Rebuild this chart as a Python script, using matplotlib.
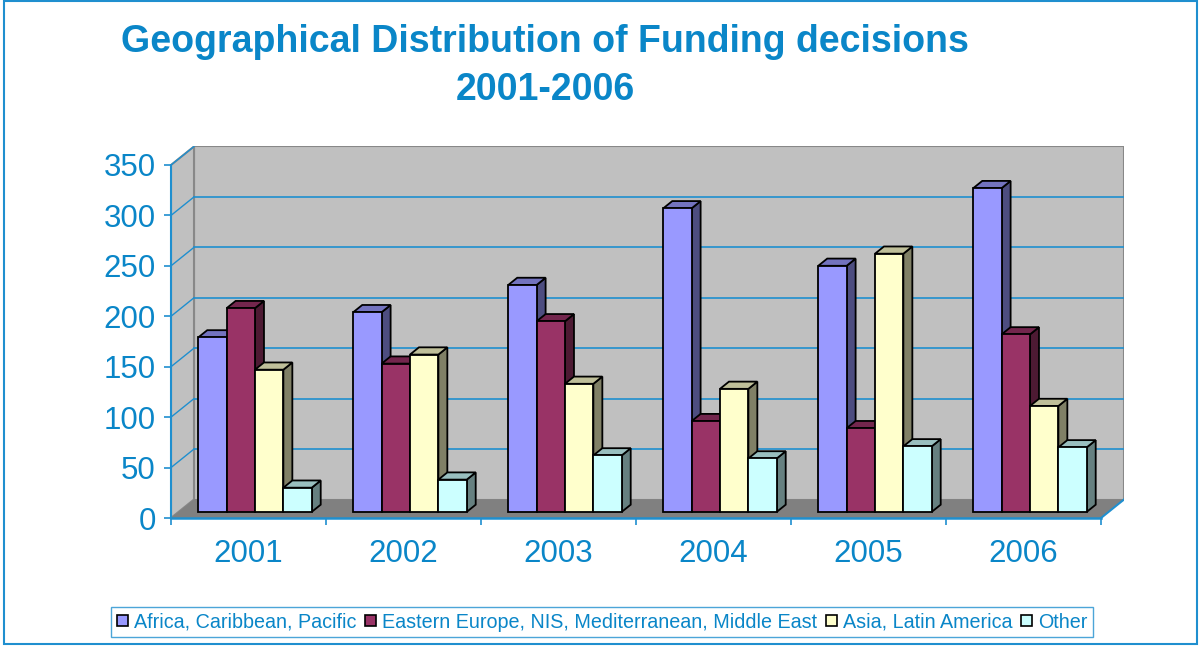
import numpy as np
import matplotlib
matplotlib.use('Agg')
import matplotlib.pyplot as plt
from matplotlib.patches import Polygon, Patch, Rectangle

plt.rcParams['font.family'] = ['Liberation Sans', 'DejaVu Sans']

years = ['2001', '2002', '2003', '2004', '2005', '2006']
series = ['Africa, Caribbean, Pacific',
          'Eastern Europe, NIS, Mediterranean, Middle East',
          'Asia, Latin America',
          'Other']
acp = [173, 198, 225, 301, 244, 321]
eu_med = [202, 147, 189, 90, 83, 176]
asia_la = [141, 156, 127, 122, 256, 105]
other = [24, 32, 56, 53, 65, 64]
yticks = [0, 50, 100, 150, 200, 250, 300, 350]

values = [acp, eu_med, asia_la, other]
front_cols = ['#9999ff', '#993366', '#ffffcc', '#ccffff']
top_cols = ['#7373bf', '#73264d', '#bfbf99', '#99bfbf']
side_cols = ['#4d4d80', '#4d1a33', '#808066', '#668080']

blue = '#0a86c8'
grid_blue = '#1f8fcf'

W, H = 1199, 646
fig = plt.figure(figsize=(W / 100, H / 100), dpi=100)

# pixel geometry of the plot box
px_l, px_r, px_b, px_t = 171, 1124, 518, 146
ppx = 155.0      # pixels per category
ppy = 1.0086     # pixels per value unit
ax = fig.add_axes([px_l / W, 1 - px_b / H, (px_r - px_l) / W, (px_b - px_t) / H])
ax.set_xlim(0, (px_r - px_l) / ppx)
ax.set_ylim(0, (px_b - px_t) / ppy)

# depth vector (front plane -> back wall)
dx, dy = 23 / ppx, 18.5 / ppy
top = 350

# walls and floor
ax.add_patch(Polygon([(dx, dy), (6 + dx, dy), (6 + dx, top + dy), (dx, top + dy)],
                     closed=True, fc='#c0c0c0', ec='#888888', lw=1.5, zorder=0))
ax.add_patch(Polygon([(0, 0), (dx, dy), (dx, top + dy), (0, top)],
                     closed=True, fc='#c0c0c0', ec='#888888', lw=1.5, zorder=0))
ax.add_patch(Polygon([(0, 0), (6, 0), (6 + dx, dy), (dx, dy)],
                     closed=True, fc='#808080', ec='none', zorder=0.5))

# gridlines on back wall and left wall
for v in yticks[1:-1]:
    ax.plot([dx, 6 + dx], [v + dy, v + dy], color=grid_blue, lw=1.2, zorder=0.6)
for v in yticks[1:]:
    ax.plot([0, dx], [v, v + dy], color=grid_blue, lw=1.0, zorder=0.6)
ax.plot([6, 6 + dx], [0, dy], color=grid_blue, lw=1.5, zorder=0.6)
ax.plot([0, 6], [0, 0], color=grid_blue, lw=1.8, zorder=0.7, clip_on=False)

# bars
z0, z1 = 0.33, 0.72
bw = 0.183
start = 0.127
bdx, bdy = (z1 - z0) * dx, (z1 - z0) * dy
for i in range(len(years)):
    for j, vals in enumerate(values):
        x0 = i + start + j * bw + z0 * dx
        y0 = z0 * dy
        h = vals[i]
        side = [(x0 + bw, y0), (x0 + bw + bdx, y0 + bdy),
                (x0 + bw + bdx, y0 + h + bdy), (x0 + bw, y0 + h)]
        tp = [(x0, y0 + h), (x0 + bdx, y0 + h + bdy),
              (x0 + bw + bdx, y0 + h + bdy), (x0 + bw, y0 + h)]
        zb = 2 + i * 4 + j
        ax.add_patch(Polygon(side, closed=True, fc=side_cols[j], ec='black', lw=1.3, zorder=zb))
        ax.add_patch(Polygon(tp, closed=True, fc=top_cols[j], ec='black', lw=1.3, zorder=zb))
        ax.bar(x0, h, width=bw, bottom=y0, align='edge', color=front_cols[j],
               edgecolor='black', linewidth=1.3, zorder=zb + 0.5)

# axes styling
for s in ['top', 'right', 'bottom']:
    ax.spines[s].set_visible(False)
ax.spines['left'].set_bounds(0, 350)
ax.spines['left'].set_color(grid_blue)
ax.spines['left'].set_linewidth(1.5)
ax.set_yticks(yticks)
ax.set_yticklabels([str(v) for v in yticks])
ax.tick_params(axis='y', direction='out', length=5, width=1.2, color=grid_blue,
               labelcolor=blue, labelsize=22.5, pad=6)
ax.set_xticks(np.arange(len(years)) + 0.5)
ax.set_xticklabels(years)
ax.set_xticks(np.arange(len(years) + 1), minor=True)
ax.tick_params(axis='x', which='major', length=0, labelcolor=blue, labelsize=22.5, pad=15)
ax.tick_params(axis='x', which='minor', direction='out', length=5, width=1.2, color=grid_blue)

# title
fig.text(545 / W, 1 - 42 / H, 'Geographical Distribution of Funding decisions',
         ha='center', va='center', fontsize=27, fontweight='bold', color=blue)
fig.text(545 / W, 1 - 90 / H, '2001-2006',
         ha='center', va='center', fontsize=27, fontweight='bold', color=blue)

# legend
handles = [Patch(facecolor=front_cols[j], edgecolor='black', linewidth=1.2, label=series[j])
           for j in range(4)]
leg = fig.legend(handles=handles, loc='center', bbox_to_anchor=(602 / W, 1 - 622 / H),
                 ncol=4, fontsize=14.2, frameon=True, fancybox=False,
                 handlelength=0.55, handleheight=0.55, handletextpad=0.3,
                 columnspacing=0.45, borderpad=0.3, labelcolor=blue)
leg.get_frame().set_edgecolor(grid_blue)
leg.get_frame().set_linewidth(1.0)

# outer frame
fig.patches.append(Rectangle((4 / W, 2 / H), 1193 / W, 643 / H, transform=fig.transFigure,
                             fill=False, ec=grid_blue, lw=1.5))

fig.savefig('out.png', dpi=100)
